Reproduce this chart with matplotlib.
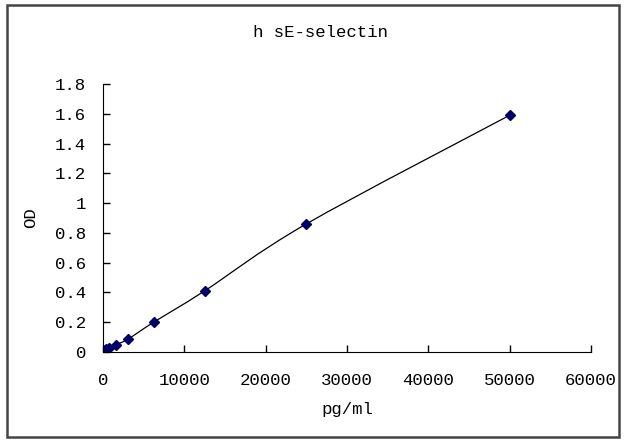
import matplotlib.pyplot as plt
from matplotlib.path import Path
from matplotlib.patches import PathPatch, Rectangle
from matplotlib.ticker import FuncFormatter

# standard curve data
conc = [0, 390.6, 781.25, 1562.5, 3125, 6250, 12500, 25000, 50000]
od = [0.015, 0.02, 0.028, 0.047, 0.088, 0.20, 0.41, 0.86, 1.59]

x_ticks = [0, 10000, 20000, 30000, 40000, 50000, 60000]
y_ticks = [0, 0.2, 0.4, 0.6, 0.8, 1.0, 1.2, 1.4, 1.6, 1.8]

plt.rcParams['font.family'] = ['Liberation Mono', 'DejaVu Sans Mono']

fig = plt.figure(figsize=(6.27, 4.41), dpi=100)
ax = fig.add_axes([0.164, 0.2018, 0.7786, 0.6077])

# excel style smoothed line (cubic bezier through the points)
pts = list(zip(conc, od))
verts = [pts[0]]
codes = [Path.MOVETO]
n = len(pts)
for i in range(n - 1):
    p0 = pts[i - 1] if i > 0 else pts[i]
    p1 = pts[i]
    p2 = pts[i + 1]
    p3 = pts[i + 2] if i + 2 < n else pts[i + 1]
    c1 = (p1[0] + (p2[0] - p0[0]) / 6, p1[1] + (p2[1] - p0[1]) / 6)
    c2 = (p2[0] - (p3[0] - p1[0]) / 6, p2[1] - (p3[1] - p1[1]) / 6)
    verts += [c1, c2, p2]
    codes += [Path.CURVE4] * 3
ax.add_patch(PathPatch(Path(verts, codes), facecolor='none', edgecolor='black', lw=0.9))

ax.plot(conc, od, linestyle='none', marker='D', markersize=5.5, color='#000066')

ax.set_xlim(0, 60000)
ax.set_ylim(0, 1.8)
ax.set_xticks(x_ticks)
ax.set_yticks(y_ticks)
ax.yaxis.set_major_formatter(FuncFormatter(lambda v, p: '%g' % v))
ax.spines['top'].set_visible(False)
ax.spines['right'].set_visible(False)
ax.tick_params(direction='in', length=5, width=1, labelsize=12.5)
ax.tick_params(axis='x', pad=15)
ax.tick_params(axis='y', pad=12)

# title sits centred on the whole chart, not the plot area
ax.set_title('h sE-selectin', fontsize=12.5, pad=34, x=0.445)
ax.set_xlabel('pg/ml', fontsize=12.5, labelpad=10)
ax.set_ylabel('OD', fontsize=12.5, labelpad=12)

# outer chart border
fig.patches.append(Rectangle((0.011, 0.01), 0.977, 0.978, transform=fig.transFigure,
                             fill=False, edgecolor='#444444', lw=1.8))

fig.savefig('out.png', dpi=100)
